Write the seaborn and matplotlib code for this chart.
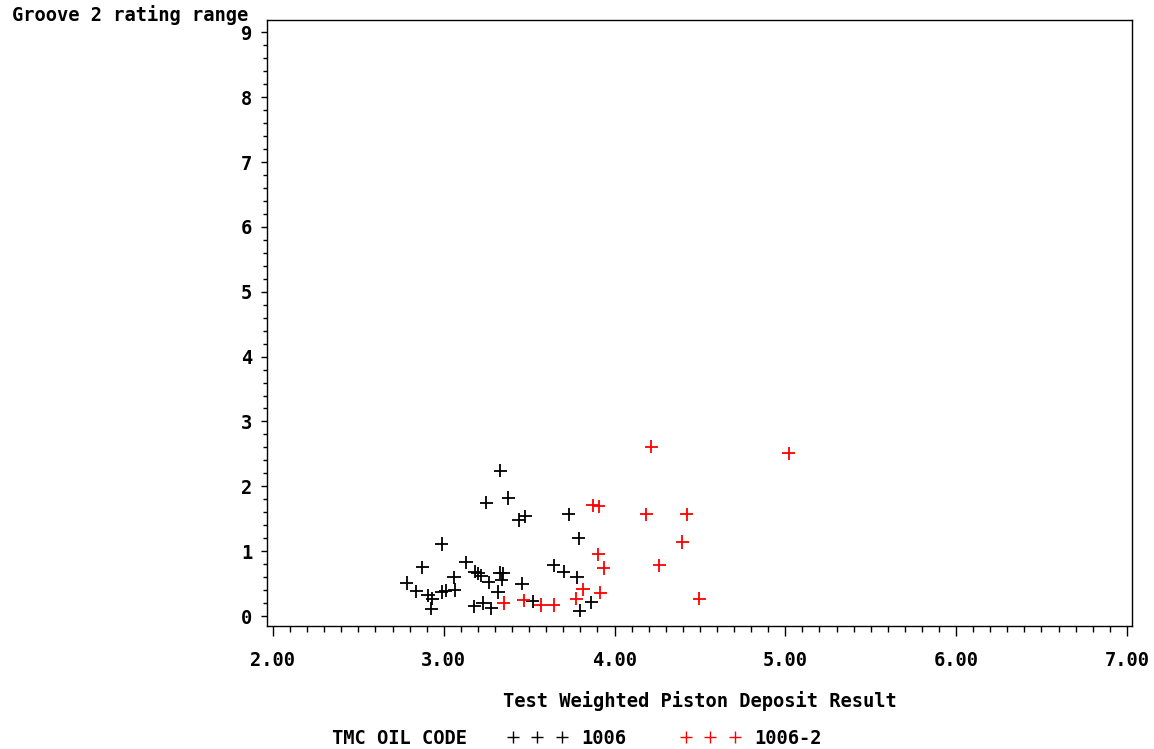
import matplotlib
matplotlib.use("Agg")
import matplotlib.pyplot as plt
from matplotlib.lines import Line2D
from matplotlib.ticker import MultipleLocator, FixedLocator
import seaborn as sns
import pandas as pd

# ---- data ----
x_1006 = [3.332, 3.250, 3.378, 3.440, 3.478, 2.987, 2.875, 3.130, 3.181, 3.200,
          3.219, 3.263, 3.329, 3.347, 3.339, 3.318, 3.458, 2.782, 2.840, 2.908,
          2.932, 2.928, 2.987, 3.012, 3.060, 3.064, 3.178, 3.230, 3.278, 3.522,
          3.645, 3.731, 3.789, 3.702, 3.780, 3.864, 3.795]
y_1006 = [2.24, 1.75, 1.82, 1.48, 1.54, 1.11, 0.75, 0.83, 0.68, 0.66,
          0.62, 0.52, 0.67, 0.66, 0.56, 0.37, 0.50, 0.51, 0.38, 0.32,
          0.27, 0.11, 0.37, 0.39, 0.60, 0.40, 0.15, 0.20, 0.12, 0.23,
          0.78, 1.57, 1.20, 0.68, 0.60, 0.21, 0.08]
x_1006_2 = [3.351, 3.468, 3.567, 3.645, 3.873, 3.908, 4.216, 4.185, 4.423,
            4.396, 3.906, 3.937, 4.263, 3.815, 3.916, 3.776, 4.497, 5.019]
y_1006_2 = [0.20, 0.24, 0.17, 0.17, 1.71, 1.69, 2.61, 1.57, 1.57,
            1.14, 0.95, 0.74, 0.78, 0.41, 0.36, 0.27, 0.27, 2.51]
codes = ["1006", "1006-2"]
colors = {"1006": "#000000", "1006-2": "#ff0000"}
x_ticks = [2.0, 3.0, 4.0, 5.0, 6.0, 7.0]
y_ticks = [0, 1, 2, 3, 4, 5, 6, 7, 8, 9]
x_label = "Test Weighted Piston Deposit Result"
y_label = "Groove 2 rating range"
legend_title = "TMC OIL CODE"

df = pd.concat([
    pd.DataFrame({"x": x_1006, "y": y_1006, "code": codes[0]}),
    pd.DataFrame({"x": x_1006_2, "y": y_1006_2, "code": codes[1]}),
], ignore_index=True)

FS = 13.5
sns.set_style("white")
plt.rcParams["font.family"] = ["DejaVu Sans Mono"]
plt.rcParams["font.weight"] = "bold"
plt.rcParams["font.size"] = FS
plt.rcParams["text.color"] = "black"
plt.rcParams["axes.labelcolor"] = "black"
plt.rcParams["xtick.color"] = "black"
plt.rcParams["ytick.color"] = "black"

W, H = 1154, 749
fig = plt.figure(figsize=(W / 100, H / 100), dpi=100)
ax = fig.add_axes([267 / W, 1 - 626 / H, (1132 - 267) / W, (626 - 20) / H])

sns.scatterplot(data=df, x="x", y="y", hue="code", palette=colors,
                marker="+", s=90, linewidth=1.3, legend=False, ax=ax)

ax.set_xlim(1.965, 7.03)
ax.set_ylim(-0.154, 9.19)

ax.xaxis.set_major_locator(FixedLocator(x_ticks))
ax.xaxis.set_minor_locator(MultipleLocator(0.1))
ax.yaxis.set_major_locator(FixedLocator(y_ticks))
ax.yaxis.set_minor_locator(MultipleLocator(0.2))
ax.set_xticklabels([f"{v:.2f}" for v in x_ticks], fontweight="bold", color="black")
ax.set_yticklabels([str(v) for v in y_ticks], fontweight="bold", color="black")

ax.tick_params(axis="x", which="major", direction="out", length=7.2, width=1.0,
               pad=11, colors="black", bottom=True)
ax.tick_params(axis="x", which="minor", direction="out", length=4.0, width=1.0,
               colors="black", bottom=True)
ax.tick_params(axis="y", which="major", direction="out", length=4.5, width=1.0,
               pad=6, colors="black", left=True)
ax.tick_params(axis="y", which="minor", direction="out", length=2.6, width=1.0,
               colors="black", left=True)

for sp in ax.spines.values():
    sp.set_color("black")
    sp.set_linewidth(1.0)
    sp.set_visible(True)

ax.set_xlabel(x_label, fontweight="bold", labelpad=15, color="black")
ax.set_ylabel("")
fig.text(12 / W, 1 - 15 / H, y_label, ha="left", va="center",
         fontweight="bold", color="black")

# legend
fig.text(332 / W, 1 - 738 / H, legend_title, ha="left", va="center",
         fontweight="bold", color="black")
handles = [Line2D([], [], linestyle="none", marker="+", markersize=9,
                  markeredgewidth=1.0, color=colors[c]) for c in codes]
leg = fig.legend(handles, codes, loc="center left",
                 bbox_to_anchor=(507.4 / W, 1 - 738 / H), ncol=2, frameon=False,
                 numpoints=3, handlelength=3.21, handletextpad=0.75,
                 columnspacing=2.85, borderpad=0, borderaxespad=0,
                 prop={"weight": "bold", "size": FS})
for t in leg.get_texts():
    t.set_color("black")

fig.savefig("out.png", dpi=100)
